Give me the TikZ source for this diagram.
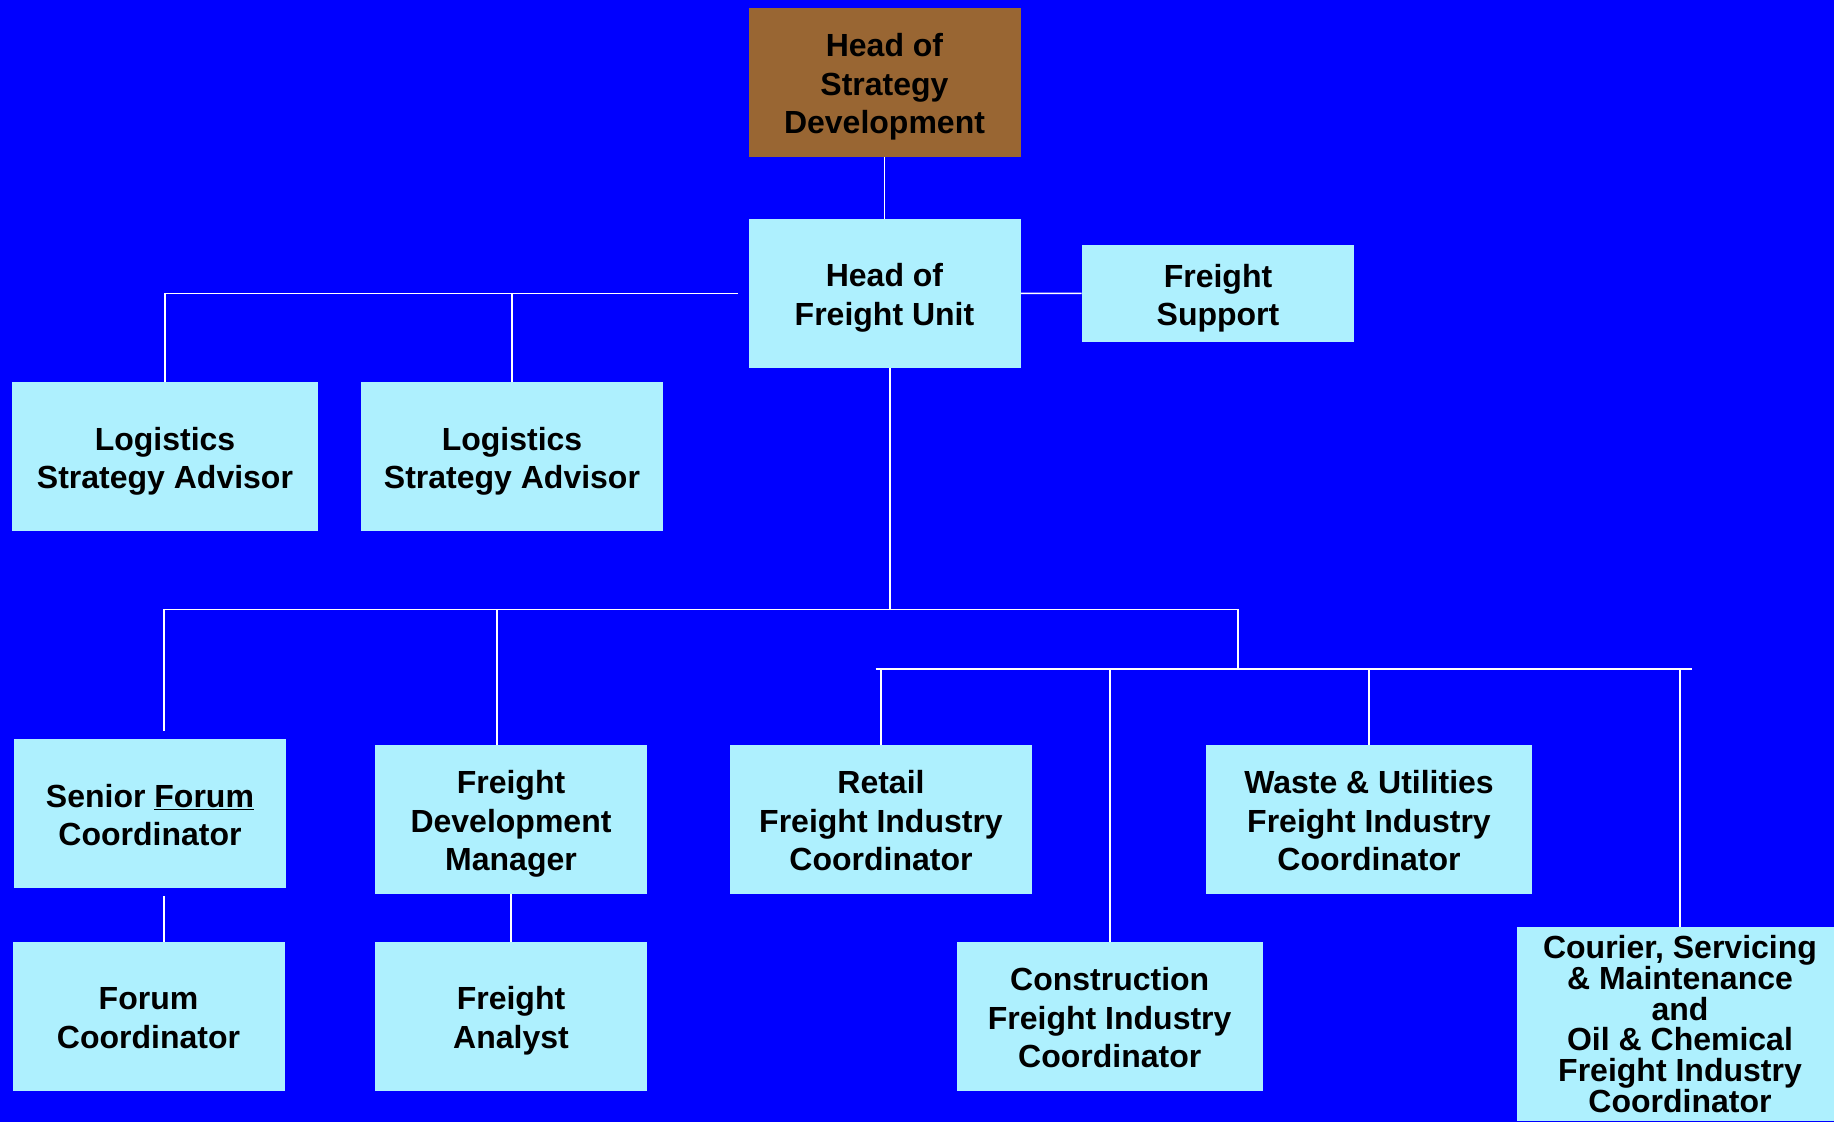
\documentclass[tikz,border=0pt]{standalone}
\usepackage{fontspec}
\setmainfont{Liberation Sans}
\usepackage{xcolor}
\usetikzlibrary{positioning}
\definecolor{bgblue}{RGB}{0,0,255}
\definecolor{boxcyan}{RGB}{174,240,254}
\definecolor{headbrown}{RGB}{153,102,51}
\newcommand{\lift}{\rule{0pt}{24.5pt}}
\newcommand{\drop}{\rule[-5.2pt]{0pt}{5.2pt}}

\begin{document}
\begin{tikzpicture}[
  x=0.75pt,y=-0.75pt,
  post/.style={fill=boxcyan,inner sep=0pt,align=center,text=black,minimum width=204pt,minimum height=111.4pt,font=\fontsize{24}{29}\selectfont\bfseries},
  head/.style={post,fill=headbrown},
  wide/.style={minimum width=#1},
  link/.style={draw=white,line width=1.2pt}
]
\useasboundingbox (0,0) rectangle (1834,1122);
\clip (0,0) rectangle (1834,1122);
\fill[bgblue] (0,0) rectangle (1834,1122);

\node[head] (strat) at (884.5,82.3) {\lift Head of\\Strategy\\Development\drop};
\node[post] (unit) at (884.5,293.3) {\lift Head of\\Freight Unit\drop};
\node[post,minimum height=72.75pt] (support) at (1218,293.5) {\lift Freight\\Support\drop};
\node[post,wide=229.5pt] (lsa1) at (165,456.5) {\lift Logistics\\Strategy Advisor\drop};
\node[post,wide=226.5pt] (lsa2) at (512,456.5) {\lift Logistics\\Strategy Advisor\drop};
\node[post] (sfc) at (150,813.5) {\lift Senior \underline{Forum}\\Coordinator\drop};
\node[post] (fdm) at (511,819.3) {\lift Freight\\Development\\Manager\drop};
\node[post] (fc) at (148.5,1016.3) {\lift Forum\\Coordinator\drop};
\node[post] (fa) at (511,1016.3) {\lift Freight\\Analyst\drop};
\node[post,wide=226.5pt] (retail) at (881,819.3) {\lift Retail\\Freight Industry\\Coordinator\drop};
\node[post,wide=229.5pt] (constr) at (1109.7,1016.3) {\lift Construction\\Freight Industry\\Coordinator\drop};
\node[post,wide=244.5pt] (waste) at (1369,819.3) {\lift Waste \& Utilities\\Freight Industry\\Coordinator\drop};
\node[post,wide=244.5pt,minimum height=145.5pt,font=\fontsize{24}{23}\selectfont\bfseries] (courier) at (1680,1024) {Courier, Servicing\\\& Maintenance\\and\\Oil \& Chemical\\Freight Industry\\Coordinator};

\coordinate (lsaend) at ([xshift=-7.5pt]unit.west);
\coordinate (busA) at (889.7,609.4);
\coordinate (busAleft) at (164,609.4);
\coordinate (busAright) at (1238,609.4);
\coordinate (busB) at (1238,669);
\coordinate (busBleft) at (875.7,669);
\coordinate (busBright) at (1692,669);
\coordinate (sfcup) at ([xshift=10.5pt,yshift=6pt]sfc.north);
\coordinate (sfcdown) at ([xshift=10.5pt,yshift=-6pt]sfc.south);
\coordinate (fdmup) at ([xshift=-10.5pt]fdm.north);

\draw[link] (strat) -- (unit);
\draw[link] (unit) -- (support);
\draw[link] (lsaend) -| (lsa1);
\draw[link] (lsa2) -- (lsa2 |- lsaend);
\draw[link] (unit.south -| busA) -- (busA);
\draw[link] (sfcup) -- (busAleft) -- (busAright) -- (busB);
\draw[link] (fdmup) -- (fdmup |- busA);
\draw[link] (busBleft) -- (busBright);
\draw[link] (retail) -- (retail |- busB);
\draw[link] (constr) -- (constr |- busB);
\draw[link] (waste) -- (waste |- busB);
\draw[link] (courier) -- (courier |- busB);
\draw[link] (sfcdown) -- (sfcdown |- fc.north);
\draw[link] (fdm) -- (fa);
\end{tikzpicture}
\end{document}
